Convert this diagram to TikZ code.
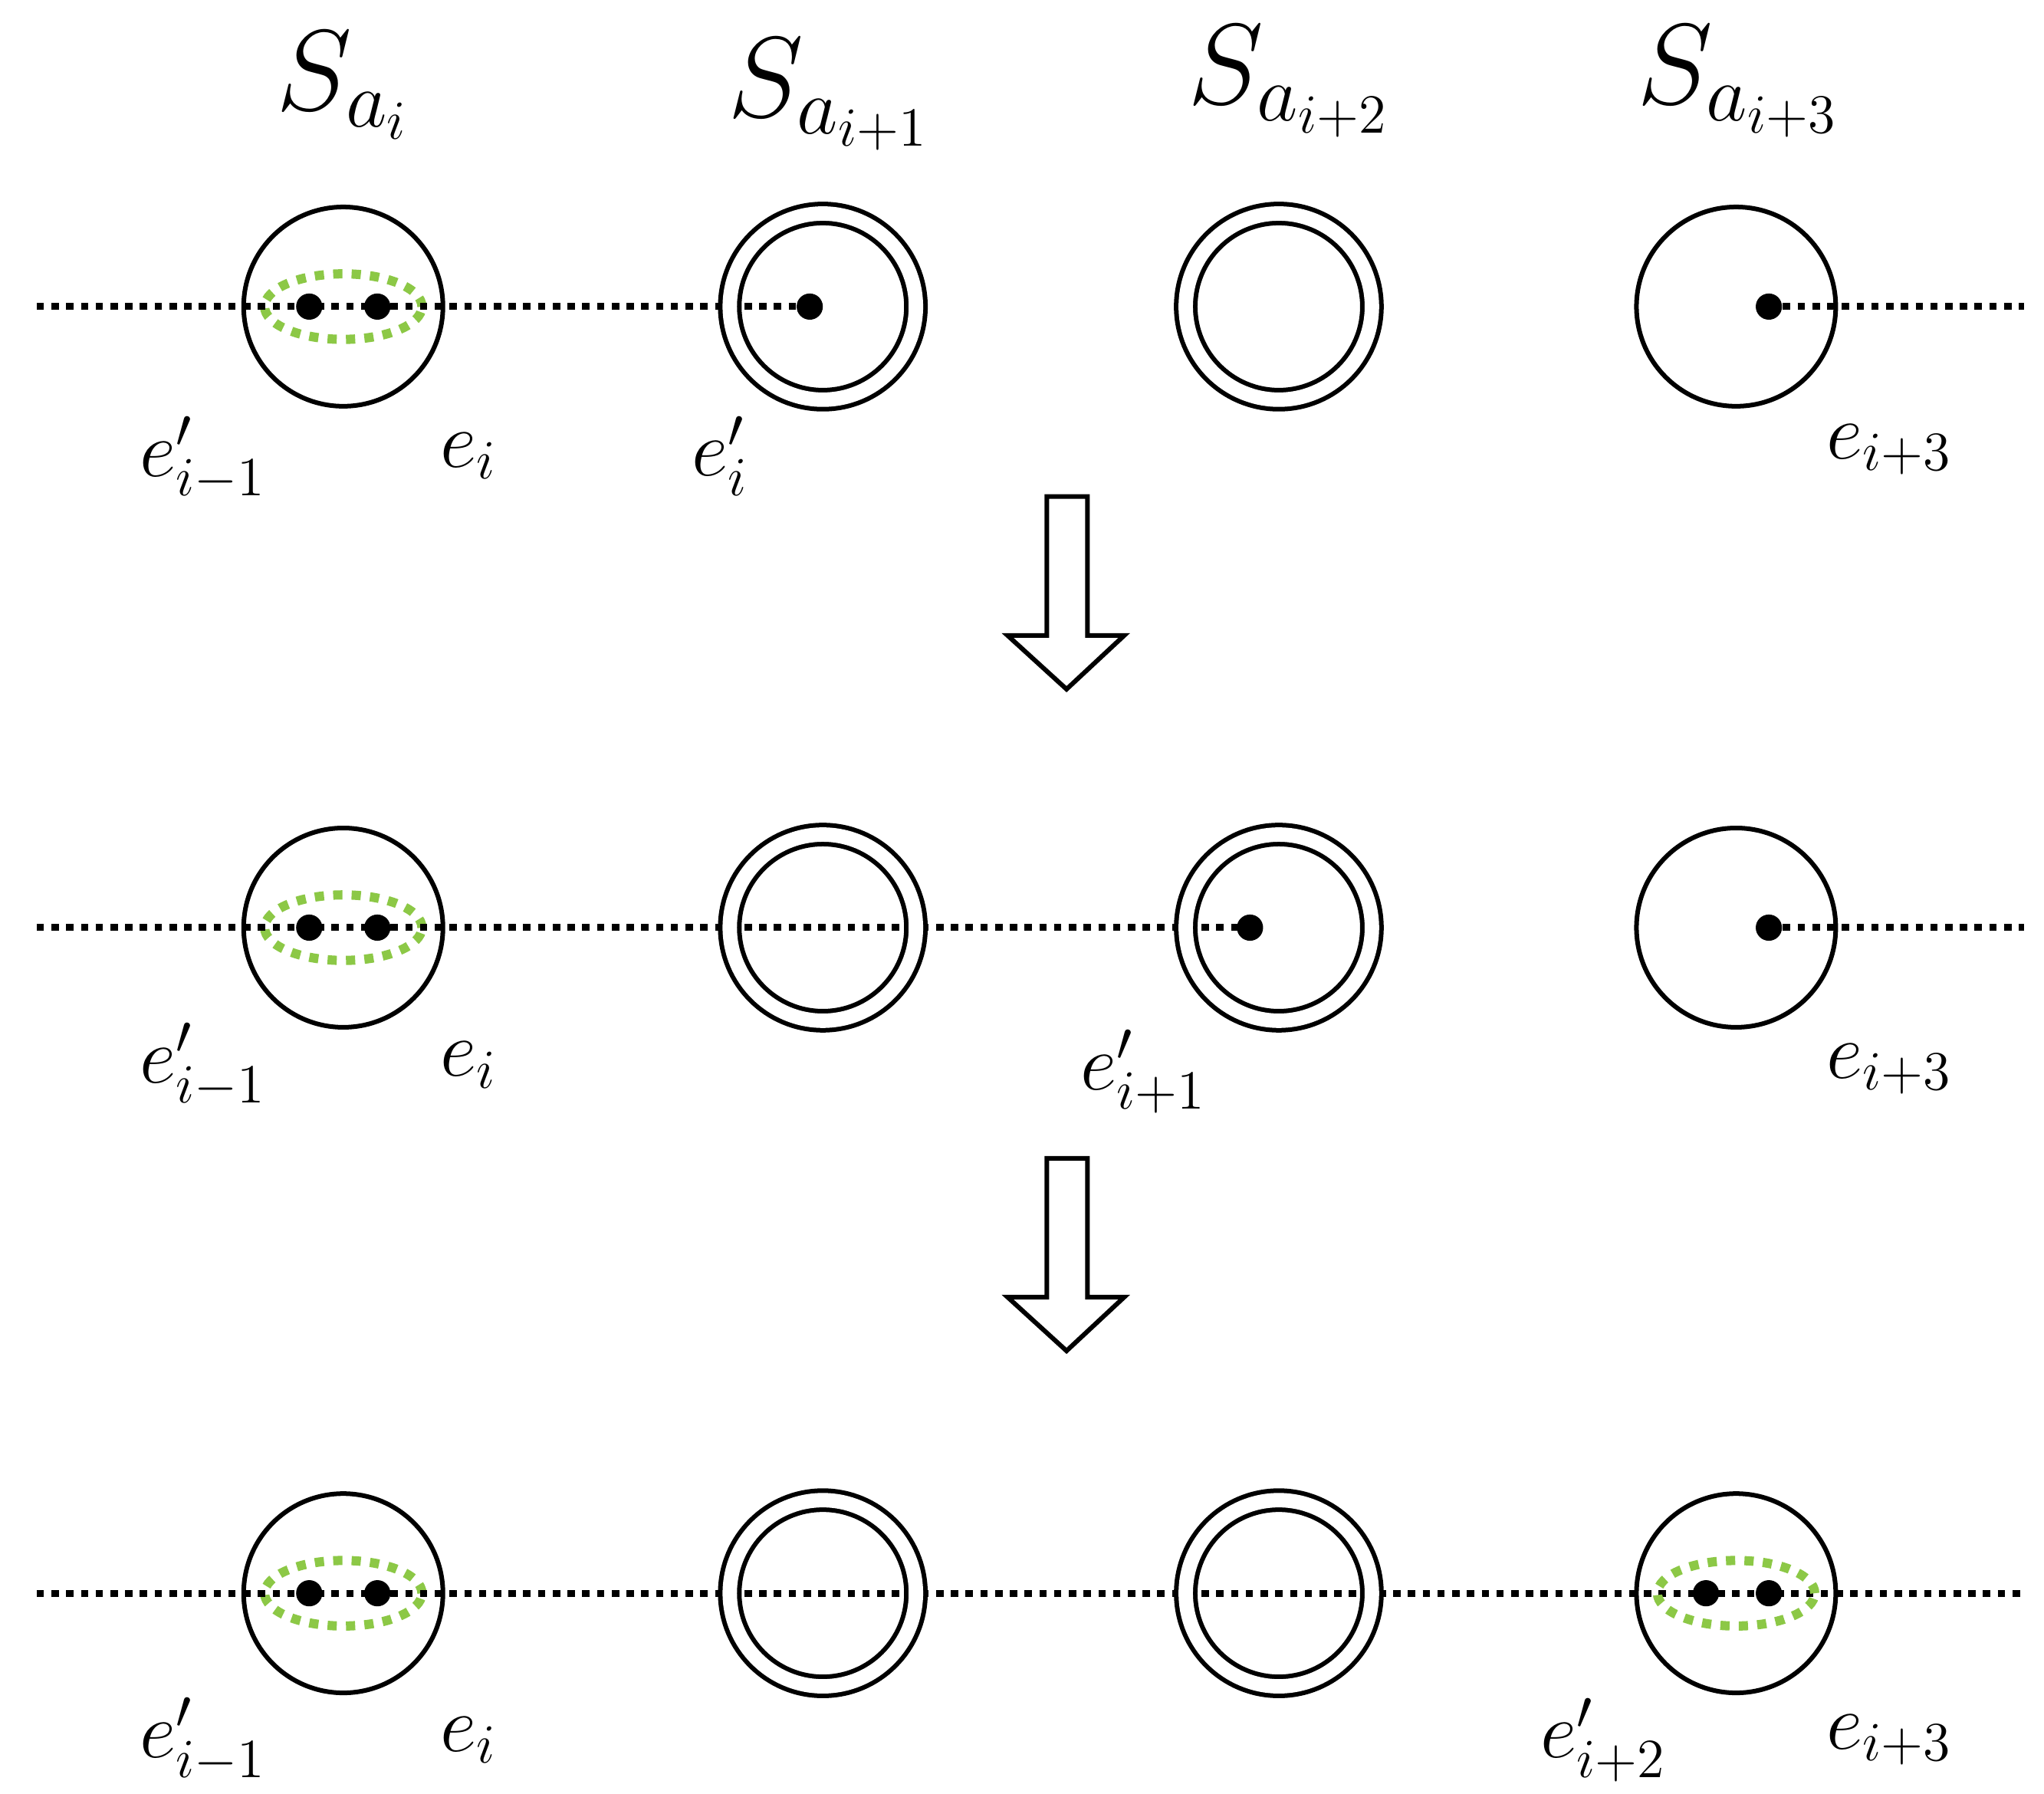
\documentclass[tikz,border=0pt]{standalone}
\usetikzlibrary{shapes.geometric}
\begin{document}
\begin{tikzpicture}[x=0.01cm,y=-0.01cm,
 sc/.style={circle,draw,line width=1pt,inner sep=0pt,minimum size=1.52cm},
 dc/.style={sc,double,double distance=0.11cm,minimum size=1.42cm},
 dotl/.style={line width=1.5pt,dash pattern=on 1.6pt off 1.6pt},
 grn/.style={draw={rgb,255:red,140;green,200;blue,70},line width=2pt,dash pattern=on 2pt off 2pt,ellipse,minimum width=1.2cm,minimum height=0.5cm,inner sep=0pt},
 pt/.style={circle,fill,inner sep=0pt,minimum size=0.2cm},
 lab/.style={font=\fontsize{16.5}{20}\selectfont},
 big/.style={font=\fontsize{24}{30}\selectfont},
 harrow/.style={draw,line width=1pt,fill=white}]
\useasboundingbox (0,0) rectangle (1560,1369);
% titles
\node[big] (t1) at (262,65) {$S_{a_i}$};
\node[big] (t2) at (633,72) {$S_{a_{i+1}}$};
\node[big] (t3) at (984,62) {$S_{a_{i+2}}$};
\node[big] (t4) at (1327,62) {$S_{a_{i+3}}$};
% rows
\foreach \r/\y in {1/234,2/708,3/1216}{
  \coordinate (L\r) at (28,\y);
  \coordinate (R\r) at (1545,\y);
  \node[grn] (g\r) at (262,\y) {};
  \node[pt] (a\r) at (236,\y) {};
  \node[pt] (b\r) at (288,\y) {};
}
% row 1
\draw[dotl] (L1) -- (618,234) coordinate (d1);
\node[pt] (p1) at (d1) {};
\node[pt] (q1) at (1350,234) {};
\draw[dotl] (q1) -- (R1);
\node[sc] (c11) at (262,234) {};
\node[dc] (c12) at (628,234) {};
\node[dc] (c13) at (976,234) {};
\node[sc] (c14) at (1325,234) {};
% row 2
\draw[dotl] (L2) -- (954,708) coordinate (d2);
\node[pt] (p2) at (d2) {};
\node[pt] (q2) at (1350,708) {};
\draw[dotl] (q2) -- (R2);
\node[sc] (c21) at (262,708) {};
\node[dc] (c22) at (628,708) {};
\node[dc] (c23) at (976,708) {};
\node[sc] (c24) at (1325,708) {};
% row 3
\draw[dotl] (L3) -- (R3);
\node[sc] (c31) at (262,1216) {};
\node[dc] (c32) at (628,1216) {};
\node[dc] (c33) at (976,1216) {};
\node[sc] (c34) at (1325,1216) {};
\node[grn] (g4) at (1325,1216) {};
\node[pt] (p3) at (1302,1216) {};
\node[pt] (q3) at (1350,1216) {};
% labels
\node[lab] (l11) at (155,350) {$e'_{i-1}$};
\node[lab] (l12) at (358,348) {$e_i$};
\node[lab] (l13) at (550,348) {$e'_i$};
\node[lab] (l14) at (1442,343) {$e_{i+3}$};
\node[lab] (l21) at (155,813) {$e'_{i-1}$};
\node[lab] (l22) at (358,813) {$e_i$};
\node[lab] (l23) at (873,818) {$e'_{i+1}$};
\node[lab] (l24) at (1442,816) {$e_{i+3}$};
\node[lab] (l31) at (155,1328) {$e'_{i-1}$};
\node[lab] (l32) at (358,1328) {$e_i$};
\node[lab] (l33) at (1224,1328) {$e'_{i+2}$};
\node[lab] (l34) at (1442,1328) {$e_{i+3}$};
% arrows
\draw[harrow] (799,379) -- (830,379) -- (830,485) -- (858,485) -- (814,526) -- (769,485) -- (799,485) -- cycle;
\draw[harrow] (799,884) -- (830,884) -- (830,990) -- (858,990) -- (814,1031) -- (769,990) -- (799,990) -- cycle;
\end{tikzpicture}
\end{document}
